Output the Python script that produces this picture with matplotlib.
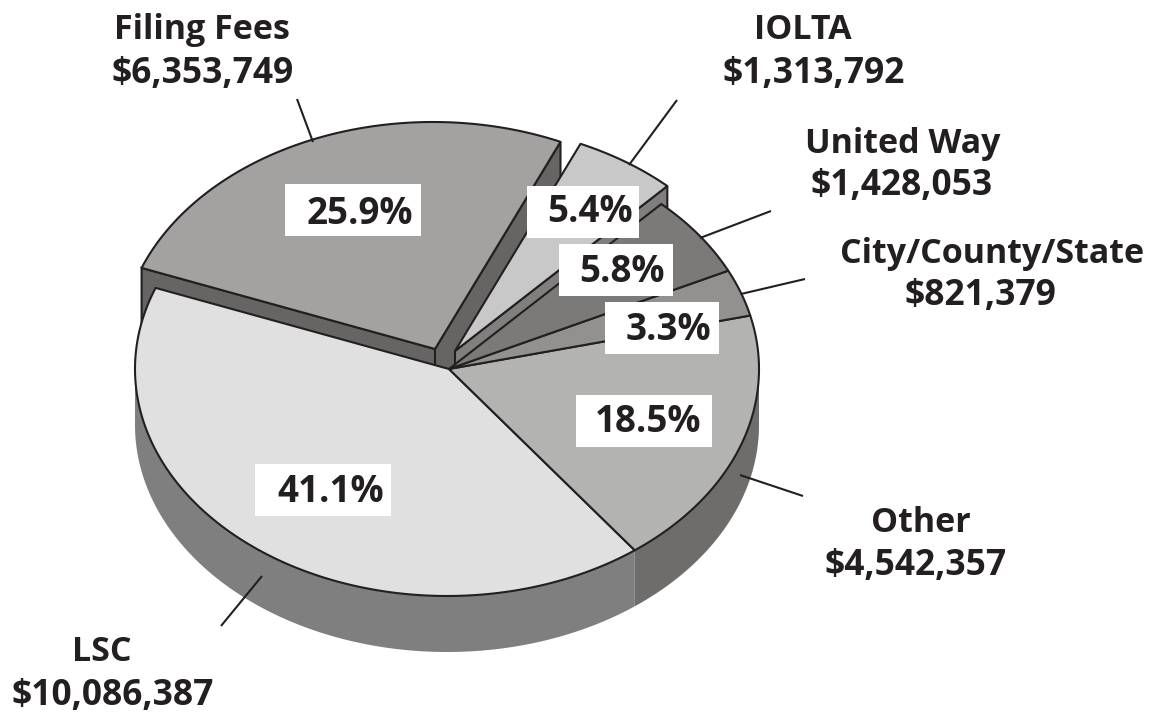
import matplotlib
matplotlib.use("Agg")
import matplotlib.pyplot as plt
import numpy as np
from matplotlib.patches import Polygon, Rectangle

plt.rcParams['font.family'] = ['Open Sans', 'DejaVu Sans']

# counter-clockwise from the lower right edge of "Other"
names = ["Other", "City/County/State", "United Way", "IOLTA", "Filing Fees", "LSC"]
amounts = [4542357, 821379, 1428053, 1313792, 6353749, 10086387]
percents = ["18.5%", "3.3%", "5.8%", "5.4%", "25.9%", "41.1%"]
amount_labels = ["$4,542,357", "$821,379", "$1,428,053", "$1,313,792", "$6,353,749", "$10,086,387"]

top_colors = ["#b3b3b2", "#929190", "#7b7a78", "#c8c8c8", "#a3a2a0", "#e0e0e0"]
wall_colors = ["#6e6d6b", "#6e6d6b", "#6e6d6b", "#807f7e", "#666564", "#7f7f7f"]
INK = "#231f20"

CX, CY = 447, 369
RX, RY = 312, 227
DEPTH = 56
START = -53
APEX_SHIFT = 2
explode = {"IOLTA": (6, -18), "Filing Fees": (-14, -20)}

name_xy = {
    "Other": (921, 519), "City/County/State": (992, 250), "United Way": (903, 140),
    "IOLTA": (803, 26), "Filing Fees": (202, 26), "LSC": (102, 648),
}
amount_xy = {
    "Other": (916, 562), "City/County/State": (980, 292), "United Way": (902, 182),
    "IOLTA": (814, 70), "Filing Fees": (203, 69), "LSC": (113, 691),
}
pct_xy = {
    "Other": (648, 418), "City/County/State": (668, 325), "United Way": (622, 267),
    "IOLTA": (590, 207), "Filing Fees": (360, 209), "LSC": (331, 487),
}
box_xy = {
    "Other": (576, 395, 136, 52), "City/County/State": (605, 302, 114, 52),
    "United Way": (559, 244, 114, 52), "IOLTA": (527, 186, 112, 52),
    "Filing Fees": (285, 184, 136, 52), "LSC": (255, 464, 136, 52),
}
leaders = {
    "Other": ((803, 496), (740, 475)), "City/County/State": ((805, 279), (741, 294)),
    "United Way": ((771, 211), (700, 238)), "IOLTA": ((677, 100), (629, 165)),
    "Filing Fees": ((297, 99), (313, 142)), "LSC": ((221, 626), (262, 576)),
}

edges = START + np.cumsum([0] + amounts) / sum(amounts) * 360


def rim(a, dx=0, dy=0):
    a = np.radians(a)
    return np.column_stack([CX + dx + RX * np.cos(a), CY + dy - RY * np.sin(a)])


def top_face(i):
    dx, dy = explode.get(names[i], (0, 0))
    arc = rim(np.linspace(edges[i], edges[i + 1], 120), dx, dy)
    return np.vstack([[CX + dx + APEX_SHIFT, CY + dy], arc])


def radial_wall(i, angle):
    dx, dy = explode.get(names[i], (0, 0))
    apex = [CX + dx + APEX_SHIFT, CY + dy]
    end = rim(np.array([angle]), dx, dy)[0]
    return [apex, end, end + [0, DEPTH], [apex[0], apex[1] + DEPTH]]


def front_band(lo, hi):
    arc = rim(np.linspace(lo, hi, 200))
    return np.vstack([arc, arc[::-1] + [0, DEPTH]])


fig = plt.figure(figsize=(11.51, 7.13), dpi=100)
ax = fig.add_axes([0, 0, 1, 1])
ax.set_xlim(0, 1151)
ax.set_ylim(713, 0)
ax.axis("off")

LW = 1.5
idx = {n: i for i, n in enumerate(names)}

# exploded slices go first, the main body is painted over them
i = idx["Filing Fees"]
ax.add_patch(Polygon(radial_wall(i, edges[i + 1]), fc=wall_colors[i], ec=INK, lw=LW))
ax.add_patch(Polygon(radial_wall(i, edges[i]), fc=wall_colors[i], ec=INK, lw=LW))
ax.add_patch(Polygon(top_face(i), fc=top_colors[i], ec=INK, lw=LW, joinstyle="round"))

i = idx["IOLTA"]
ax.add_patch(Polygon(radial_wall(i, edges[i]), fc=wall_colors[i], ec=INK, lw=LW))
ax.add_patch(Polygon(top_face(i), fc=top_colors[i], ec=INK, lw=LW, joinstyle="round"))

# front rim of the body: LSC wraps round from 180 deg, Other runs up to 360
lsc = idx["LSC"]
ax.add_patch(Polygon(front_band(180, edges[lsc + 1]), fc=wall_colors[lsc], ec="none"))
oth = idx["Other"]
ax.add_patch(Polygon(front_band(edges[oth] + 360, 360), fc=wall_colors[oth], ec="none"))

for n in ["LSC", "Other", "City/County/State", "United Way"]:
    i = idx[n]
    ax.add_patch(Polygon(top_face(i), fc=top_colors[i], ec=INK, lw=LW, joinstyle="round"))

for n in names:
    (x0, y0), (x1, y1) = leaders[n]
    ax.plot([x0, x1], [y0, y1], color=INK, lw=1.5, solid_capstyle="butt")

for i, n in enumerate(names):
    x, y, w, h = box_xy[n]
    ax.add_patch(Rectangle((x, y), w, h, fc="white", ec="none"))
    ax.text(*pct_xy[n], percents[i], ha="center", va="center_baseline", fontsize=26.5,
            fontweight="bold", color=INK)
    ax.text(*name_xy[n], n, ha="center", va="center_baseline", fontsize=24.5,
            fontweight="bold", color=INK)
    ax.text(*amount_xy[n], amount_labels[i], ha="center", va="center_baseline", fontsize=25.5,
            fontweight="bold", color=INK)

fig.savefig("out.png", dpi=100)
